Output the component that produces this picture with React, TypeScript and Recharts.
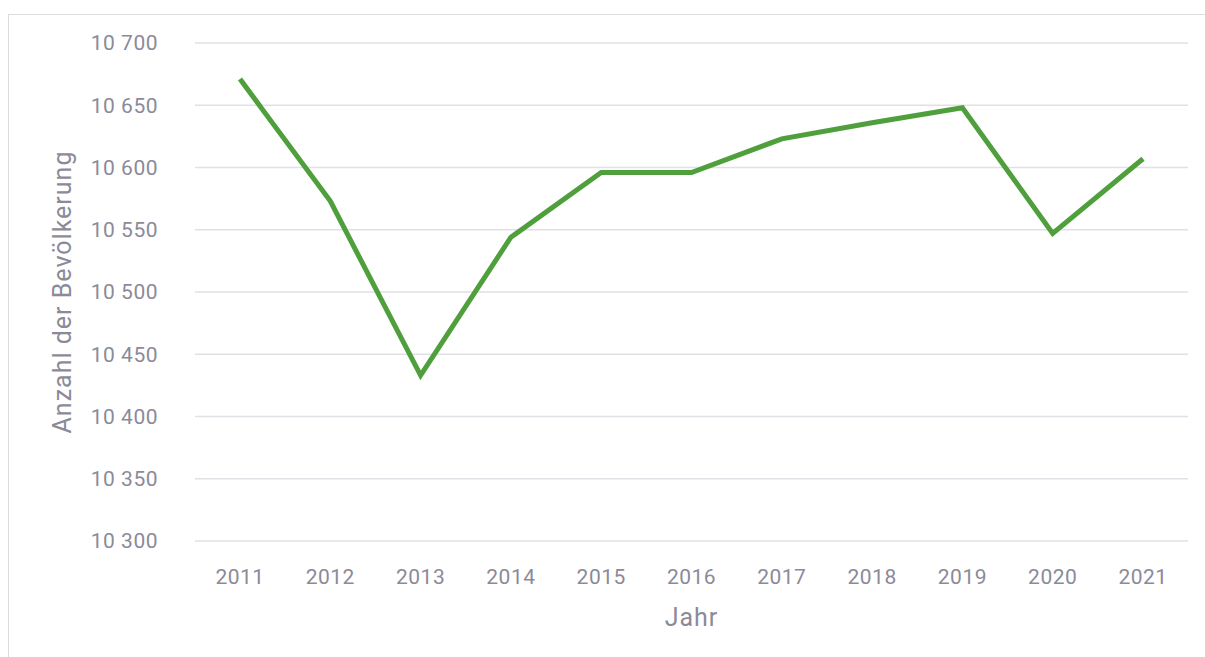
import React from 'react';
import { LineChart, Line, XAxis, YAxis, CartesianGrid } from 'recharts';

const YEARS = ['2011', '2012', '2013', '2014', '2015', '2016', '2017', '2018', '2019', '2020', '2021'];
const POPULATION = [10671, 10573, 10433, 10544, 10596, 10596, 10623, 10636, 10648, 10547, 10607];
const Y_TICKS = [10300, 10350, 10400, 10450, 10500, 10550, 10600, 10650, 10700];

const TEXT_COLOR = '#8b8a99';
const FONT = 'Roboto, "DejaVu Sans", sans-serif';

const data = YEARS.map((year, i) => ({ year, value: POPULATION[i] }));

// "10 700" style thousands separator
const formatThousands = (v: number) => `${Math.floor(v / 1000)} ${String(v % 1000).padStart(3, '0')}`;

const YLabel = ({ viewBox }: any) => {
  const x = viewBox.x - 23;
  const y = viewBox.y + viewBox.height / 2;
  return (
    <text
      x={x}
      y={y}
      transform={`rotate(-90, ${x}, ${y})`}
      textAnchor="middle"
      dominantBaseline="central"
      fill={TEXT_COLOR}
      fontSize={25}
      letterSpacing={1}
      fontFamily={FONT}
    >
      Anzahl der Bevölkerung
    </text>
  );
};

const XLabel = ({ viewBox }: any) => (
  <text
    x={viewBox.x + viewBox.width / 2}
    y={viewBox.y + 76}
    textAnchor="middle"
    dominantBaseline="central"
    fill={TEXT_COLOR}
    fontSize={25}
    letterSpacing={1}
    fontFamily={FONT}
  >
    Jahr
  </text>
);

export default function App() {
  return (
    <div
      style={{
        position: 'fixed',
        left: 8,
        top: 14,
        width: 1240,
        height: 700,
        boxSizing: 'border-box',
        borderLeft: '1px solid #dcdcdc',
        borderTop: '1px solid #dcdcdc',
        background: '#fff',
      }}
    >
      <LineChart
        width={1196}
        height={642}
        data={data}
        margin={{ top: 28, right: 17, bottom: 46, left: 76 }}
      >
        <CartesianGrid vertical={false} stroke="#e1e0e6" strokeWidth={1.5} />
        <XAxis
          dataKey="year"
          height={70}
          axisLine={false}
          tickLine={false}
          tickMargin={22}
          padding={{ left: 45, right: 45 }}
          tick={{ fill: TEXT_COLOR, fontSize: 21, fontFamily: FONT, letterSpacing: 0.5 }}
          label={<XLabel />}
        />
        <YAxis
          width={110}
          domain={[10300, 10700]}
          ticks={Y_TICKS}
          axisLine={false}
          tickLine={false}
          tickMargin={31}
          tickFormatter={formatThousands}
          tick={{ fill: TEXT_COLOR, fontSize: 21, fontFamily: FONT, letterSpacing: 0.5 }}
          label={<YLabel />}
        />
        <Line
          type="linear"
          dataKey="value"
          stroke="#4f9f3c"
          strokeWidth={5}
          dot={false}
          isAnimationActive={false}
        />
      </LineChart>
    </div>
  );
}
